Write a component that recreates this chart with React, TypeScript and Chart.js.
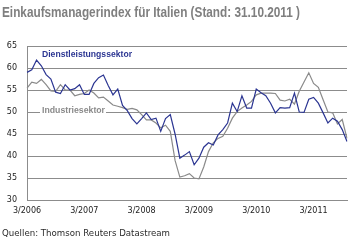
import React, { useEffect, useRef } from "react";
import { Chart, registerables } from "chart.js";

Chart.register(...registerables);

const TITLE = "Einkaufsmanagerindex für Italien (Stand: 31.10.2011 )";
const SOURCE = "Quellen: Thomson Reuters Datastream";
const SERVICE_LABEL = "Dienstleistungssektor";
const INDUSTRY_LABEL = "Industriesektor";

// Monthly categories 3/2006 .. 10/2011
const START_YEAR = 2006;
const START_MONTH = 3;
const N_MONTHS = 68;
const categories: string[] = [];
for (let k = 0; k < N_MONTHS; k++) {
  const m = ((START_MONTH - 1 + k) % 12) + 1;
  const y = START_YEAR + Math.floor((START_MONTH - 1 + k) / 12);
  categories.push(`${m}/${y}`);
}
const shownTicks = ["3/2006", "3/2007", "3/2008", "3/2009", "3/2010", "3/2011"];

const services = [
  59.0, 59.6, 61.8, 60.5, 58.5, 57.5, 54.5, 54.2, 56.2, 55.0, 55.3, 56.2,
  54.0, 54.0, 56.5, 57.8, 58.4, 56.0, 53.9, 55.2, 51.5, 50.3, 48.5, 47.3,
  48.5, 49.8, 48.3, 48.6, 45.6, 48.5, 49.4, 45.0, 39.5, 40.2, 41.0, 38.0,
  39.5, 42.0, 43.0, 42.5, 44.8, 46.0, 47.5, 52.0, 50.1, 53.7, 50.9, 50.9,
  55.2, 54.4, 53.7, 52.0, 49.8, 51.0, 50.9, 51.0, 54.3, 50.0, 49.9, 52.9,
  53.3, 52.0, 49.8, 47.5, 48.6, 47.9, 46.0, 43.3,
];
const industry = [
  55.4, 56.8, 56.5, 57.4, 56.2, 54.8, 54.7, 56.2, 55.0, 55.0, 53.7, 54.0,
  54.2, 55.0, 54.3, 53.2, 53.4, 52.5, 51.6, 51.3, 51.0, 50.6, 50.8, 50.5,
  49.4, 48.2, 48.2, 47.5, 46.4, 47.0, 45.6, 39.0, 35.2, 35.5, 36.0, 35.0,
  34.8, 37.5, 41.0, 43.0, 44.0, 44.5, 46.3, 48.6, 50.1, 50.9, 51.6, 52.4,
  53.9, 54.3, 54.3, 54.3, 54.2, 52.7, 52.5, 52.9, 51.8, 54.7, 56.8, 58.9,
  56.5, 55.6, 52.8, 50.0, 49.8, 47.3, 48.3, 44.0,
];
const yTicks = [30, 35, 40, 45, 50, 55, 60, 65];

const BLUE = "#2b3592";
const GREY_LINE = "#8a8a8a";
const GRID = "#8c8c8c";

function fitText(ctx: any, text: string, x: number, y: number, targetW: number) {
  const w = ctx.measureText(text).width;
  const s = Math.min(1.15, targetW / w);
  ctx.save();
  ctx.translate(x, y);
  ctx.scale(s, 1);
  ctx.fillText(text, 0, 0);
  ctx.restore();
  return w * s;
}

const textPlugin = {
  id: "texts",
  afterDraw(chart: any) {
    const ctx = chart.ctx;
    ctx.save();
    ctx.textAlign = "left";
    ctx.textBaseline = "middle";
    // title
    ctx.fillStyle = "#7f7f7f";
    ctx.font = "bold 15px 'Liberation Sans', Arial, sans-serif";
    fitText(ctx, TITLE, 2, 13, 298);
    // source
    ctx.fillStyle = "#2a2a2a";
    ctx.font = "9px 'DejaVu Sans', sans-serif";
    fitText(ctx, SOURCE, 2, 234, 168);
    // series labels
    const yScale = chart.scales.y;
    ctx.font = "bold 9px 'Liberation Sans', Arial, sans-serif";
    ctx.fillStyle = BLUE;
    fitText(ctx, SERVICE_LABEL, 42, 55, 90);
    const y50 = yScale.getPixelForValue(50);
    ctx.fillStyle = "#ffffff";
    ctx.fillRect(40, y50 - 6, 66, 9);
    ctx.fillStyle = "#8a8a8a";
    fitText(ctx, INDUSTRY_LABEL, 42, y50 - 1.5, 63);
    ctx.restore();
  },
};

export default function App() {
  const ref = useRef<HTMLCanvasElement>(null);
  useEffect(() => {
    if (!ref.current) return;
    const chart = new Chart(ref.current, {
      type: "line",
      data: {
        labels: categories,
        datasets: [
          {
            label: SERVICE_LABEL,
            data: services,
            borderColor: BLUE,
            borderWidth: 1.2,
            pointRadius: 0,
            tension: 0,
            fill: false,
          },
          {
            label: INDUSTRY_LABEL,
            data: industry,
            borderColor: GREY_LINE,
            borderWidth: 1.2,
            pointRadius: 0,
            tension: 0,
            fill: false,
          },
        ],
      },
      options: {
        animation: false,
        responsive: false,
        devicePixelRatio: 1,
        layout: { padding: { top: 46, right: 9, bottom: 28, left: 0 } },
        plugins: {
          legend: { display: false },
          title: { display: false },
          tooltip: { enabled: false },
        },
        scales: {
          x: {
            type: "category",
            offset: false,
            grid: { display: false, drawTicks: false },
            border: { display: true, color: GRID, width: 1 },
            ticks: {
              autoSkip: false,
              maxRotation: 0,
              padding: 6,
              color: "#222",
              font: { family: "'DejaVu Sans', sans-serif", size: 8 },
              callback: (_v: any, i: number) =>
                shownTicks.includes(categories[i]) ? categories[i] : "",
            },
            afterFit: (s: any) => {
              s.height = 20;
            },
          },
          y: {
            min: 30,
            max: 65,
            afterBuildTicks: (s: any) => {
              s.ticks = yTicks.map((v) => ({ value: v }));
            },
            grid: { color: GRID, lineWidth: 1, drawTicks: false },
            border: { display: true, color: GRID, width: 1 },
            ticks: {
              padding: 10,
              color: "#222",
              font: { family: "'DejaVu Sans', sans-serif", size: 8 },
            },
            afterFit: (s: any) => {
              s.width = 27;
            },
          },
        },
      },
      plugins: [textPlugin],
    } as any);
    return () => chart.destroy();
  }, []);
  return (
    <div style={{ position: "fixed", left: 0, top: 0, width: 356, height: 248, background: "#fff" }}>
      <canvas ref={ref} width={356} height={248} style={{ width: 356, height: 248, display: "block" }} />
    </div>
  );
}
